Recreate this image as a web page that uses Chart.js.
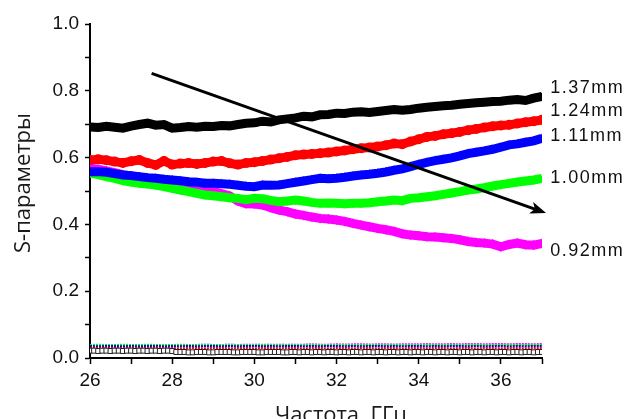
<!DOCTYPE html>
<html>
<head>
<meta charset="utf-8">
<script src="https://cdn.jsdelivr.net/npm/chart.js@4.4.1/dist/chart.umd.min.js"></script>
<style>
  html, body { margin: 0; padding: 0; background: #fff; }
  canvas { display: block; }
</style>
</head>
<body>
<canvas id="chart" width="630" height="419"></canvas>
<script>
// frequency grid, GHz
const freqs = [
  26.0, 26.2, 26.4, 26.6, 26.8, 27.0, 27.2, 27.4, 27.6, 27.8,
  28.0, 28.2, 28.4, 28.6, 28.8, 29.0, 29.2, 29.4, 29.6, 29.8,
  30.0, 30.2, 30.4, 30.6, 30.8, 31.0, 31.2, 31.4, 31.6, 31.8,
  32.0, 32.2, 32.4, 32.6, 32.8, 33.0, 33.2, 33.4, 33.6, 33.8,
  34.0, 34.2, 34.4, 34.6, 34.8, 35.0, 35.2, 35.4, 35.6, 35.8,
  36.0, 36.2, 36.4, 36.6, 36.8, 37.0
];
// in-between frequencies (only the dense hollow-square trace uses them)
const freqsMid = [
  26.1, 26.3, 26.5, 26.7, 26.9, 27.1, 27.3, 27.5, 27.7, 27.9,
  28.1, 28.3, 28.5, 28.7, 28.9, 29.1, 29.3, 29.5, 29.7, 29.9,
  30.1, 30.3, 30.5, 30.7, 30.9, 31.1, 31.3, 31.5, 31.7, 31.9,
  32.1, 32.3, 32.5, 32.7, 32.9, 33.1, 33.3, 33.5, 33.7, 33.9,
  34.1, 34.3, 34.5, 34.7, 34.9, 35.1, 35.3, 35.5, 35.7, 35.9,
  36.1, 36.3, 36.5, 36.7, 36.9
];

// reflection curves (S11), one per thickness
const s137 = [
  .692, .690, .694, .691, .688, .694, .699, .703, .697, .699,
  .688, .690, .693, .691, .694, .693, .696, .695, .699, .703,
  .704, .709, .707, .713, .716, .719, .724, .722, .728, .729,
  .733, .732, .736, .737, .735, .738, .741, .744, .742, .744,
  .748, .751, .753, .755, .757, .760, .762, .764, .766, .768,
  .769, .772, .774, .771, .778, .783
];
const s124 = [
  .593, .595, .592, .588, .584, .589, .593, .584, .578, .590,
  .579, .582, .584, .581, .584, .588, .590, .583, .579, .584,
  .586, .590, .594, .598, .602, .607, .609, .611, .613, .615,
  .618, .621, .625, .628, .630, .633, .637, .642, .640, .648,
  .655, .662, .665, .670, .673, .677, .682, .686, .690, .694,
  .696, .698, .702, .706, .709, .713
];
const s111 = [
  .558, .558, .556, .552, .548, .546, .543, .540, .538, .535,
  .533, .531, .528, .526, .523, .523, .522, .520, .517, .514,
  .513, .518, .517, .518, .522, .526, .530, .534, .538, .537,
  .538, .541, .545, .548, .550, .553, .557, .562, .566, .573,
  .580, .586, .591, .595, .599, .605, .612, .616, .620, .625,
  .631, .638, .641, .646, .650, .658
];
const s100 = [
  .553, .549, .543, .538, .531, .527, .523, .521, .518, .513,
  .508, .503, .498, .493, .488, .486, .483, .480, .478, .474,
  .478, .477, .472, .468, .470, .473, .470, .466, .463, .464,
  .463, .462, .463, .463, .465, .468, .470, .473, .471, .478,
  .480, .483, .486, .490, .494, .498, .503, .506, .510, .515,
  .519, .523, .527, .530, .533, .538
];
const s092 = [
  .568, .565, .560, .555, .549, .545, .541, .537, .533, .527,
  .521, .516, .513, .509, .505, .499, .492, .485, .470, .462,
  .461, .458, .450, .443, .438, .431, .427, .422, .418, .416,
  .413, .409, .403, .398, .393, .388, .384, .379, .372, .368,
  .366, .363, .362, .360, .358, .354, .349, .346, .344, .341,
  .333, .340, .344, .339, .338, .343
];

// transmission curves near zero
const t137 = [
  .022, .021, .022, .022, .021, .022, .022, .021, .022, .022,
  .021, .018, .017, .018, .018, .017, .018, .018, .017, .018,
  .018, .017, .018, .018, .017, .018, .018, .017, .018, .018,
  .017, .018, .018, .017, .018, .018, .017, .018, .018, .017,
  .018, .018, .017, .018, .018, .017, .018, .018, .017, .018,
  .018, .017, .018, .018, .017, .018
];
const t137Mid = [
  .022, .022, .021, .022, .022, .021, .022, .022, .021, .022,
  .018, .018, .017, .018, .017, .018, .018, .017, .018, .018,
  .017, .018, .018, .017, .018, .017, .018, .018, .017, .018,
  .018, .017, .018, .018, .017, .018, .018, .017, .018, .018,
  .017, .018, .018, .017, .018, .018, .017, .018, .018, .017,
  .018, .018, .017, .018, .018
];
const t124 = [
  .031, .030, .031, .030, .030, .031, .030, .030, .031, .030,
  .030, .029, .030, .030, .029, .030, .030, .029, .030, .030,
  .029, .030, .030, .029, .030, .030, .029, .030, .030, .029,
  .030, .030, .029, .030, .030, .029, .030, .030, .029, .030,
  .030, .029, .030, .030, .029, .030, .030, .029, .030, .030,
  .029, .030, .030, .029, .030, .030
];
const t111 = [
  .036, .035, .036, .036, .035, .036, .035, .036, .036, .035,
  .036, .035, .036, .035, .036, .036, .035, .036, .035, .036,
  .036, .035, .036, .035, .036, .036, .035, .036, .035, .036,
  .036, .035, .036, .035, .036, .036, .035, .036, .035, .036,
  .036, .035, .036, .035, .036, .036, .035, .036, .035, .036,
  .036, .035, .036, .035, .036, .036
];
const t100 = [
  .039, .040, .039, .039, .040, .039, .039, .040, .039, .039,
  .039, .040, .039, .039, .040, .039, .039, .040, .039, .039,
  .039, .040, .039, .039, .040, .039, .039, .040, .039, .039,
  .039, .040, .039, .039, .040, .039, .039, .040, .039, .039,
  .039, .040, .039, .039, .040, .039, .039, .040, .039, .039,
  .039, .040, .039, .039, .040, .039
];
const t092 = [
  .038, .039, .039, .038, .039, .039, .038, .039, .039, .038,
  .039, .039, .038, .039, .040, .039, .039, .040, .039, .040,
  .040, .039, .040, .040, .039, .040, .040, .041, .040, .040,
  .041, .040, .041, .041, .040, .041, .041, .040, .041, .041,
  .041, .042, .041, .041, .042, .041, .042, .042, .041, .042,
  .042, .041, .042, .042, .041, .042
];

// curve labels on the right, and the value each sits at
const curveLabels = ['1.37mm', '1.24mm', '1.11mm', '1.00mm', '0.92mm'];
const curveLabelY = [0.808, 0.740, 0.665, 0.539, 0.320];
const curveLabelX = 37.2;

// arrow showing the thickness trend (start, end) in data units
const arrowFrom = [27.5, 0.852];
const arrowTo = [37.1, 0.434];

const xTitle = 'Частота, ГГц';
const yTitle = 'S-параметры';

function pts(vals, xs) {
  xs = xs || freqs;
  return vals.map((v, i) => ({ x: xs[i], y: v }));
}

function band(label, vals, color, style, order, rot) {
  return {
    label,
    data: pts(vals),
    borderColor: color,
    backgroundColor: color,
    borderWidth: 9,
    pointStyle: style,
    pointRadius: 5,
    pointRotation: rot || 0,
    pointBorderWidth: 0,
    order,
  };
}

function thin(label, vals, color, order) {
  return {
    label,
    data: pts(vals),
    borderColor: color,
    backgroundColor: color,
    borderWidth: 2,
    borderDash: [2, 1],
    pointRadius: 0,
    order,
  };
}

const overlay = {
  id: 'overlay',
  afterDatasetsDraw(chart) {
    const { ctx, scales: { x, y } } = chart;
    ctx.save();

    // arrow
    const x1 = x.getPixelForValue(arrowFrom[0]);
    const y1 = y.getPixelForValue(arrowFrom[1]);
    const x2 = x.getPixelForValue(arrowTo[0]);
    const y2 = y.getPixelForValue(arrowTo[1]);
    const ang = Math.atan2(y2 - y1, x2 - x1);
    const head = 17;
    ctx.strokeStyle = '#000';
    ctx.fillStyle = '#000';
    ctx.lineWidth = 3;
    ctx.beginPath();
    ctx.moveTo(x1, y1);
    ctx.lineTo(x2 - head * 0.7 * Math.cos(ang), y2 - head * 0.7 * Math.sin(ang));
    ctx.stroke();
    ctx.beginPath();
    ctx.moveTo(x2, y2);
    ctx.lineTo(x2 - head * Math.cos(ang - 0.36), y2 - head * Math.sin(ang - 0.36));
    ctx.lineTo(x2 - head * 0.7 * Math.cos(ang), y2 - head * 0.7 * Math.sin(ang));
    ctx.lineTo(x2 - head * Math.cos(ang + 0.36), y2 - head * Math.sin(ang + 0.36));
    ctx.closePath();
    ctx.fill();

    // curve labels
    ctx.font = '18px "Liberation Sans", Arial, sans-serif';
    ctx.letterSpacing = '1.5px';
    ctx.fillStyle = '#111';
    ctx.textBaseline = 'middle';
    ctx.textAlign = 'left';
    curveLabels.forEach((t, i) => {
      ctx.fillText(t, x.getPixelForValue(curveLabelX), y.getPixelForValue(curveLabelY[i]));
    });
    ctx.letterSpacing = '0px';

    // axis titles
    ctx.font = '22px "Open Sans", sans-serif';
    ctx.fillStyle = '#1a1a1a';
    ctx.textAlign = 'center';
    ctx.textBaseline = 'alphabetic';
    ctx.fillText(xTitle, 341, 419 + 3);

    ctx.translate(30, 183);
    ctx.rotate(-Math.PI / 2);
    ctx.fillText(yTitle, 0, 0);
    ctx.restore();
  }
};

const ctx = document.getElementById('chart').getContext('2d');
new Chart(ctx, {
  type: 'line',
  data: {
    datasets: [
      band('1.37mm', s137, '#000000', 'rect', 1),
      band('1.24mm', s124, '#ff0000', 'circle', 2),
      band('1.11mm', s111, '#0000ff', 'triangle', 3),
      band('1.00mm', s100, '#00ff00', 'triangle', 4, 180),
      band('0.92mm', s092, '#ff00ff', 'rectRot', 5),
      {
        label: 't1.37',
        data: pts(t137).concat(pts(t137Mid, freqsMid)).sort((a, b) => a.x - b.x),
        showLine: false,
        pointStyle: 'rect',
        pointRadius: 3.5,
        pointBorderWidth: 1,
        borderColor: '#222222',
        backgroundColor: '#ffffff',
        order: 6,
      },
      thin('t1.24', t124, '#ff0000', 7),
      thin('t1.11', t111, '#0000ff', 8),
      thin('t1.00', t100, '#00ff00', 9),
      thin('t0.92', t092, '#ff00ff', 10),
    ]
  },
  options: {
    responsive: false,
    animation: false,
    layout: { padding: { left: 0, right: 88, top: 24, bottom: 0 } },
    plugins: { legend: { display: false }, tooltip: { enabled: false } },
    scales: {
      x: {
        type: 'linear',
        min: 26,
        max: 37,
        afterFit: s => { s.height = 61; },
        border: { display: true, color: '#000', width: 2 },
        grid: { drawOnChartArea: false, drawTicks: true, tickLength: 6, tickColor: '#000', tickWidth: 1.5 },
        ticks: {
          stepSize: 1,
          autoSkip: false,
          maxRotation: 0,
          padding: 5,
          color: '#111',
          font: { family: '"Liberation Sans", Arial, sans-serif', size: 19 },
          callback: v => (v % 2 === 0 ? String(v) : ''),
        },
      },
      y: {
        min: 0,
        max: 1,
        afterFit: s => { s.width = 90; },
        border: { display: true, color: '#000', width: 2 },
        grid: { drawOnChartArea: false, drawTicks: true, tickLength: 5, tickColor: '#000', tickWidth: 1.5 },
        ticks: {
          stepSize: 0.1,
          autoSkip: false,
          padding: 6,
          color: '#111',
          font: { family: '"Liberation Sans", Arial, sans-serif', size: 19 },
          callback: v => (Math.round(v * 10) % 2 === 0 ? v.toFixed(1) : ''),
        },
      },
    },
  },
  plugins: [overlay],
});
</script>
</body>
</html>
